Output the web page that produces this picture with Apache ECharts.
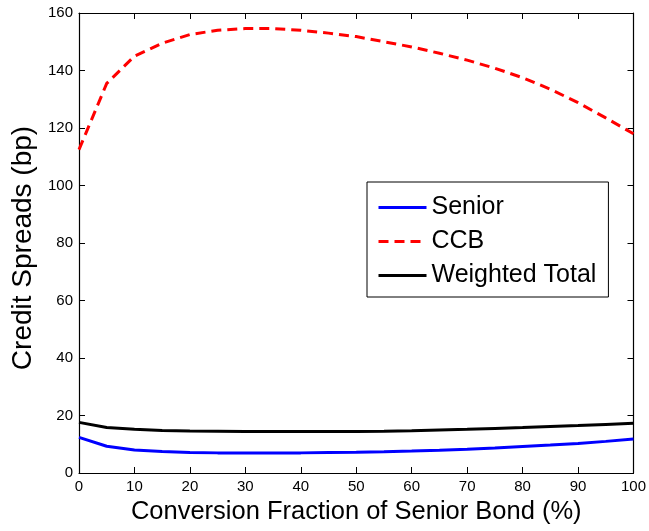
<!DOCTYPE html>
<html>
<head>
<meta charset="utf-8">
<script src="https://cdn.jsdelivr.net/npm/echarts@6/dist/echarts.min.js"></script>
<style>
  html, body { margin: 0; padding: 0; background: #fff; }
  #chart { width: 649px; height: 531px; }
</style>
</head>
<body>
<div id="chart"></div>
<script>
// Conversion fraction of the senior bond (%)
const fractions = [0, 5, 10, 15, 20, 25, 30, 35, 40, 45, 50, 55, 60, 65, 70, 75, 80, 85, 90, 95, 100];

// Credit spreads (bp)
const senior = [12.4, 9.3, 8.0, 7.5, 7.1, 7.0, 7.0, 7.0, 7.0, 7.1, 7.2, 7.4, 7.65, 7.95, 8.3, 8.7, 9.2, 9.7, 10.3, 11.0, 11.8];
const ccb = [112.5, 135.5, 145.0, 149.5, 152.5, 154.0, 154.6, 154.6, 154.0, 153.0, 151.8, 150.0, 148.2, 146.0, 143.6, 140.8, 137.5, 133.5, 128.8, 123.5, 118.0];
const weightedTotal = [17.6, 15.8, 15.2, 14.8, 14.6, 14.5, 14.4, 14.4, 14.4, 14.4, 14.45, 14.55, 14.7, 14.95, 15.2, 15.5, 15.8, 16.15, 16.5, 16.9, 17.3];

const seriesNames = ['Senior', 'CCB', 'Weighted Total'];
const xTicks = { min: 0, max: 100, interval: 10 };
const yTicks = { min: 0, max: 160, interval: 20 };

const FONT = '"Liberation Sans", Arial, Helvetica, sans-serif';

const pairs = (ys) => fractions.map((x, i) => [x, ys[i]]);

const tickStyle = { show: true, inside: true, length: 6, lineStyle: { color: '#000', width: 1 } };
const lineAxis = { show: true, onZero: false, lineStyle: { color: '#000', width: 1.2 } };

const chart = echarts.init(document.getElementById('chart'), null, { renderer: 'canvas' });

chart.setOption({
  animation: false,
  backgroundColor: '#fff',
  textStyle: { fontFamily: FONT },
  grid: { left: 79, right: 13, top: 13, bottom: 58, containLabel: false },
  legend: {
    data: seriesNames,
    orient: 'vertical',
    left: 367,
    top: 182,
    borderColor: '#000',
    borderWidth: 1,
    backgroundColor: '#fff',
    padding: [13, 12, 9, 10],
    itemWidth: 48,
    itemHeight: 14,
    itemGap: 9,
    itemStyle: { opacity: 0 },
    lineStyle: { width: 3 },
    textStyle: { fontFamily: FONT, fontSize: 25, color: '#000', padding: [0, 0, 0, 0] },
    selectedMode: false
  },
  xAxis: [
    {
      type: 'value', position: 'bottom',
      min: xTicks.min, max: xTicks.max, interval: xTicks.interval,
      name: 'Conversion Fraction of Senior Bond (%)',
      nameLocation: 'middle', nameGap: 24,
      nameTextStyle: { fontFamily: FONT, fontSize: 25.5, color: '#000' },
      axisLine: lineAxis, axisTick: tickStyle,
      axisLabel: { fontFamily: FONT, fontSize: 15, color: '#000', margin: 6 },
      splitLine: { show: false }
    },
    {
      type: 'value', position: 'top',
      min: xTicks.min, max: xTicks.max, interval: xTicks.interval,
      axisLine: lineAxis, axisTick: tickStyle,
      axisLabel: { show: false }, splitLine: { show: false }
    }
  ],
  yAxis: [
    {
      type: 'value', position: 'left',
      min: yTicks.min, max: yTicks.max, interval: yTicks.interval,
      name: 'Credit Spreads (bp)',
      nameLocation: 'middle', nameGap: 33,
      nameTextStyle: { fontFamily: FONT, fontSize: 28, color: '#000', padding: [0, 10, 0, 0] },
      axisLine: lineAxis, axisTick: tickStyle,
      axisLabel: { fontFamily: FONT, fontSize: 15, color: '#000', margin: 6 },
      splitLine: { show: false }
    },
    {
      type: 'value', position: 'right',
      min: yTicks.min, max: yTicks.max, interval: yTicks.interval,
      axisLine: lineAxis, axisTick: tickStyle,
      axisLabel: { show: false }, splitLine: { show: false }
    }
  ],
  series: [
    {
      name: seriesNames[0], type: 'line', data: pairs(senior),
      symbol: 'none', smooth: false,
      lineStyle: { color: '#0000ff', width: 3 },
      itemStyle: { color: '#0000ff' }
    },
    {
      name: seriesNames[1], type: 'line', data: pairs(ccb),
      symbol: 'none', smooth: false,
      lineStyle: { color: '#ff0000', width: 3, type: [10, 6] },
      itemStyle: { color: '#ff0000' }
    },
    {
      name: seriesNames[2], type: 'line', data: pairs(weightedTotal),
      symbol: 'none', smooth: false,
      lineStyle: { color: '#000000', width: 3 },
      itemStyle: { color: '#000000' }
    }
  ]
});
</script>
</body>
</html>
